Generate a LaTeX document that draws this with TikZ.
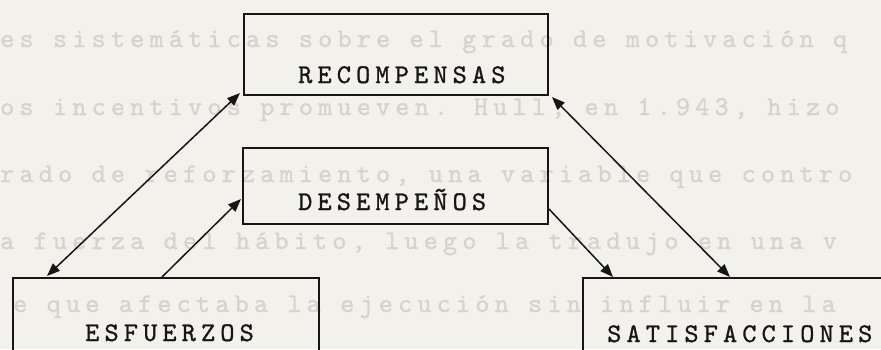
\documentclass[tikz,border=0pt]{standalone}
\usepackage{fontspec}
\newfontfamily\twfont{lmmono10-regular.otf}[LetterSpace=19,FakeBold=1]
\newfontfamily\twbold{lmmono10-regular.otf}[LetterSpace=19,FakeBold=1]
\usetikzlibrary{calc,arrows.meta}
\definecolor{paper}{RGB}{242,241,235}
\definecolor{faint}{RGB}{212,211,205}
\definecolor{ink}{RGB}{22,22,22}
\tikzset{
  box/.style={draw=ink, line width=2pt, rectangle, inner sep=0pt, anchor=north west},
  lbl/.style={text=ink, inner sep=0pt, anchor=base west,
    font=\twbold\fontsize{27}{27}\selectfont},
  ghost/.style={text=faint, inner sep=0pt, anchor=base west,
    font=\twfont\fontsize{27}{27}\selectfont},
  conn/.style={draw=ink, line width=1.5pt},
  tip/.tip={Triangle[length=13pt,width=10pt]}
}
\begin{document}
\begin{tikzpicture}[x=1pt,y=-1pt]
\useasboundingbox (0,0) rectangle (881,349);
\fill[paper] (0,0) rectangle (881,349);
\clip (0,0) rectangle (881,349);
% faint bleed-through text
\node[ghost] (g1) at (0,47) {es sistemáticas sobre el grado de motivación q};
\node[ghost] (g2) at (0,115) {os incentivos promueven. Hull, en 1.943, hizo};
\node[ghost] (g3) at (0,182) {rado de reforzamiento, una variable que contro};
\node[ghost] (g4) at (0,249) {a fuerza del hábito, luego la tradujo en una v};
\node[ghost] (g5) at (13,312) {e que afectaba la ejecución sin influir en la};
% boxes
\node[box, minimum width=304pt, minimum height=81pt] (rec) at (243,13) {};
\node[box, minimum width=305pt, minimum height=76pt] (des) at (242,147) {};
\node[box, minimum width=306pt, minimum height=120pt] (esf) at (12,277) {};
\node[box, minimum width=330pt, minimum height=120pt] (sat) at (582,277) {};
% labels
\node[lbl] (recl) at (298,83) {RECOMPENSAS};
\node[lbl] (desl) at (298,210) {DESEMPEÑOS};
\node[lbl] (esfl) at (85,341) {ESFUERZOS};
\node[lbl] (satl) at (607,342) {SATISFACCIONES};
% connectors
\draw[conn, {tip}-{tip}] ($(esf.north west)+(35,-1)$) -- ($(rec.south west)+(-3,-3)$);
\draw[conn, -{tip}] ($(esf.north west)+(150,0)$) -- ($(des.west)+(-1,13)$);
\draw[conn, -{tip}] ($(des.east)+(0,23)$) -- ($(sat.north west)+(31,0)$);
\draw[conn, {tip}-{tip}] ($(rec.south east)+(3,1)$) -- ($(sat.north west)+(148,0)$);
\end{tikzpicture}
\end{document}
